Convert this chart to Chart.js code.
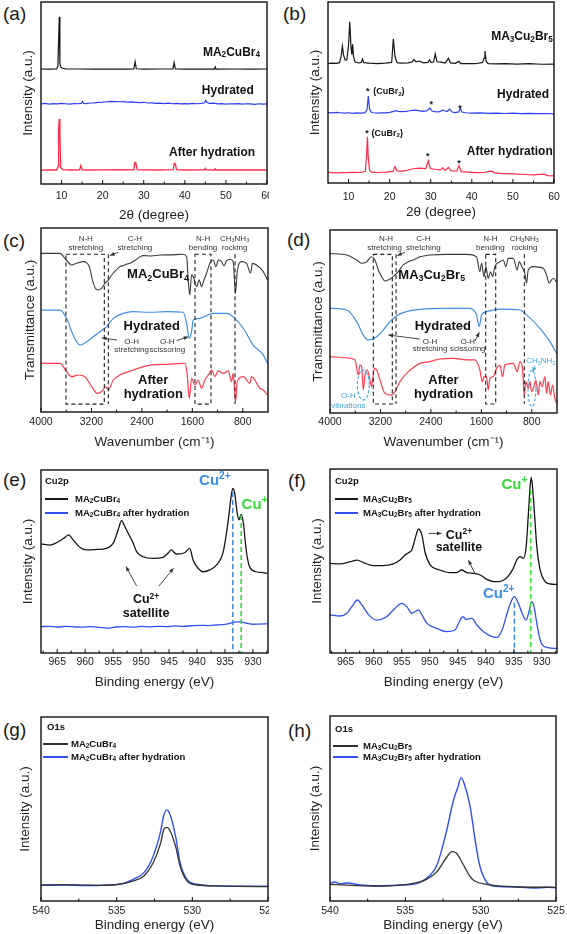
<!DOCTYPE html>
<html><head><meta charset="utf-8">
<script src="https://cdn.jsdelivr.net/npm/chart.js@4.4.0/dist/chart.umd.min.js"></script>
<style>
html,body{margin:0;padding:0;background:#fff;}
body{width:567px;height:934px;position:relative;overflow:hidden;font-family:"Liberation Sans",Arial,sans-serif;}
canvas{position:absolute;}
.lab{position:absolute;font-size:19px;line-height:20px;color:#1a1a1a;font-family:"Liberation Sans",Arial,sans-serif;}
</style></head><body>
<div class="lab" style="left:3px;top:4px">(a)</div>
<div class="lab" style="left:283px;top:4px">(b)</div>
<div class="lab" style="left:3px;top:231px">(c)</div>
<div class="lab" style="left:287px;top:230px">(d)</div>
<div class="lab" style="left:3px;top:470px">(e)</div>
<div class="lab" style="left:288px;top:471px">(f)</div>
<div class="lab" style="left:3px;top:720px">(g)</div>
<div class="lab" style="left:288px;top:721px">(h)</div>
<canvas id="ca"></canvas><canvas id="cb"></canvas>
<canvas id="cc"></canvas><canvas id="cd"></canvas>
<canvas id="ce"></canvas><canvas id="cf"></canvas>
<canvas id="cg"></canvas><canvas id="ch"></canvas>
<script>
// ---------------- tick labels ----------------
const xrdTicks = [10, 20, 30, 40, 50, 60];
const ftirTicks = [4000, 3200, 2400, 1600, 800];
const cu2pTicks = [965, 960, 955, 950, 945, 940, 935, 930];
const o1sTicks = [540, 535, 530, 525];

// ---------------- (a) XRD MA2CuBr4 ----------------
const xrdA_pristine_x = [5,7,8.8,9.1,9.3,9.45,9.6,9.8,10.2,11,14,18,22,26,27.6,27.9,28.2,30,34,37.1,37.4,37.7,40,44,47.2,47.4,47.6,52,56,60];
const xrdA_pristine_y = [63.2,63.1,63.2,64.5,80,91.9,66,64.3,63.6,63.3,63.2,63.1,63.2,63.1,63.2,67.2,63.3,63.1,63.2,63.2,66.7,63.2,63.1,63.2,63.1,64.3,63.1,63.2,63.1,63.2];
const xrdA_hydrated_x = [5,6,7,8,9,10,11,12,13,14,14.8,15.1,15.4,16,17,18,19,20,21,22,23,24,25,26,27,28,29,30,31,32,33,34,35,36,37,38,39,40,41,42,43,44,44.8,45.1,45.4,46,47,48,49,50,51,52,53,54,55,56,57,58,59,60];
const xrdA_hydrated_y = [44.0,44.3,43.9,44.2,44.0,44.3,44.1,43.9,44.2,44.1,44.3,45.3,44.3,44.2,44.5,44.6,44.9,45.0,45.2,45.4,45.3,45.2,45.3,45.0,45.1,44.9,44.7,44.9,44.5,44.6,44.3,44.4,44.2,44.4,44.1,44.3,44.0,44.2,44.0,44.3,44.1,44.3,44.6,46.0,44.8,44.3,44.4,44.0,44.2,43.9,44.1,44.0,44.2,43.9,44.1,44.0,43.8,44.1,43.9,44.0];
const xrdA_after_x = [5,7,8.8,9.15,9.3,9.45,9.6,9.8,10.3,12,14.4,14.7,15.0,17,20,24,27.6,27.85,28.1,28.4,30,33,37.2,37.45,37.7,38,40,44.8,45.0,45.2,47.2,47.4,47.6,50,54,57,60];
const xrdA_after_y = [7.6,7.8,7.7,9.5,30,35.7,28,9,7.9,7.7,7.8,10.1,7.8,7.7,7.8,7.9,7.8,11.9,11.5,7.9,7.8,7.7,7.9,11.4,10.8,7.9,7.7,7.8,8.6,7.8,7.7,8.4,7.7,7.8,7.7,7.8,7.7];

// ---------------- (b) XRD MA3Cu2Br5 ----------------
const xrdB_pristine_x = [5,6,7,7.8,8.2,8.5,8.8,9.2,9.6,10.0,10.3,10.6,10.8,11.0,11.2,11.6,12.5,13.1,13.4,13.7,15,17,19,20.5,20.9,21.3,21.8,23,24.5,25.5,25.9,26.4,27.3,28.2,29.3,29.7,30.1,30.7,31.1,31.5,32.5,33.5,34.3,34.8,36,36.9,37.3,39,41,42.6,43.0,43.2,43.5,44,46,48,51,54,57,60];
const xrdB_pristine_y = [66.0,66.2,66.1,66.5,70,75.7,70.5,67.8,68.2,76,89.1,75,71,76.6,70,66.8,66.3,66.6,68.5,66.5,66.2,66.0,66.2,66.6,79.6,70,66.5,66.2,66.4,66.9,68.3,67,67.4,66.4,66.6,68,66.6,66.8,71.3,67,66.8,66.3,68.9,66.4,66.1,67.2,66.0,66.0,65.9,66.6,69,72.9,67,66.0,65.8,66.0,65.7,65.9,65.6,65.7];
const xrdB_hydrated_x = [5,6,7,8,9,10,11,12,13,14,14.5,14.8,15.1,15.5,16,17,18,19,20,21,21.5,22,23,24,25,26,27,28,29,29.8,30.3,31,32,33,33.5,34,34.6,35.2,36,36.8,37.2,37.6,38.5,40,42,44,46,48,50,52,54,56,58,60];
const xrdB_hydrated_y = [38.9,38.7,39.0,38.8,38.6,38.8,38.5,38.7,38.6,38.9,40.5,48.1,41,39.2,38.8,38.6,38.8,38.7,39.0,39.6,40.1,39.5,39.4,39.6,39.9,40.3,40.0,39.6,39.8,41.4,39.8,39.4,39.3,40.2,39.8,39.5,40.8,39.2,38.9,39.3,41.3,39.2,38.8,38.6,38.7,38.5,38.6,38.4,38.6,38.3,38.5,38.3,38.4,38.2];
const xrdB_after_x = [5,7,9,11,13,14.1,14.4,14.6,14.8,15.1,15.6,17,19,20.8,21.3,21.8,23,24.5,26,27.5,28.8,29.4,29.9,31,32.4,32.9,33.5,34.3,34.9,36.3,36.9,37.4,39,41,43,44.5,45.0,45.5,47,50,53,55,57.5,58.5,60];
const xrdB_after_y = [5.9,5.6,5.7,5.9,5.8,6.5,16,25.6,14,7.2,6.0,5.8,6.0,6.4,9.0,6.7,6.6,7.2,8.0,8.2,7.9,12.3,8.0,7.6,7.2,8.4,7.0,8.6,6.8,6.5,9.6,6.3,6.0,5.7,5.8,6.6,6.4,5.6,5.3,5.0,4.7,4.5,4.9,4.0,3.9];

// ---------------- (c) FTIR MA2CuBr4 ----------------
const ftirC_pristine_x = [4000,3700,3600,3515,3435,3330,3235,3170,3105,3040,2985,2935,2855,2750,2690,2640,2590,2500,2450,2380,2250,2115,1950,1745,1690,1665,1640,1612,1575,1533,1491,1454,1417,1374,1322,1269,1226,1189,1137,1100,1057,1004,952,915,888,819,740,677,645,582,476,408];
const ftirC_pristine_y = [86.2,86.2,82.6,79.9,80.8,81.7,79.0,69.9,66.3,67.2,69.9,71.7,75.4,79.0,79.6,80.4,80.8,82.6,83.9,85.0,84.8,85.3,85.4,85.7,84.4,71.7,63.6,74.5,72.6,68.1,71.7,68.1,71.7,75.4,80.8,82.6,79.0,82.6,81.7,79.5,82.1,83.0,81.7,64.5,76.3,81.7,80.8,75.4,80.8,79.9,76.3,71.7];
const ftirC_hydrated_x = [4000,3700,3593,3514,3435,3380,3276,3171,3065,2960,2854,2695,2537,2272,2008,1744,1691,1649,1612,1586,1480,1374,1269,1057,925,793,635,476,408];
const ftirC_hydrated_y = [55.4,55.4,50.9,43.7,38.2,36.4,38.2,40.9,43.7,46.4,50.9,53.6,54.5,54.2,54.5,54.2,48.2,40.0,43.7,50.0,50.9,52.4,53.6,53.6,50.9,45.5,36.4,31.0,26.4];
const ftirC_after_x = [4000,3700,3593,3514,3408,3303,3197,3107,3038,2970,2933,2854,2748,2537,2272,2008,1718,1681,1649,1612,1559,1506,1454,1401,1348,1295,1242,1189,1110,1030,978,952,915,888,793,687,661,529,476,408];
const ftirC_after_y = [26.4,26.4,21.9,19.2,20.1,19.2,13.8,10.1,11.1,13.8,12.0,17.4,20.1,22.8,25.5,25.9,26.4,20.1,7.4,18.3,14.7,17.4,12.9,17.4,20.1,22.8,19.2,22.3,21.0,22.3,16.5,21.0,5.6,16.5,19.2,15.6,19.2,12.9,12.0,9.2];

// ---------------- (d) FTIR MA3Cu2Br5 ----------------
const ftirD_pristine_x = [4000,3736,3577,3498,3419,3340,3287,3234,3181,3128,3049,2970,2917,2838,2758,2679,2574,2415,2151,1834,1676,1623,1596,1559,1528,1491,1454,1422,1385,1306,1253,1211,1174,1094,1031,999,946,909,883,856,777,619,566,524,487,450,408];
const ftirD_pristine_y = [87.2,86.3,83.6,81.8,82.6,85.4,83.6,78.1,74.5,72.1,73.2,75.4,77.2,80.9,82.6,83.6,85.4,86.3,86.7,86.7,85.4,77.2,81.8,74.5,80.0,73.6,77.2,74.5,80.0,82.6,83.6,80.0,84.5,84.5,78.1,82.6,79.1,76.3,70.9,78.1,80.0,79.1,75.4,70.9,72.7,73.6,71.4];
const ftirD_hydrated_x = [4000,3736,3577,3472,3392,3260,3155,3049,2943,2785,2574,2151,1781,1676,1634,1596,1517,1306,989,883,671,513,408];
const ftirD_hydrated_y = [57.2,56.3,49.9,42.6,39.9,41.7,45.4,49.9,53.2,55.4,56.6,57.2,57.2,53.6,47.2,53.6,55.4,56.8,56.3,53.6,46.3,39.0,32.6];
const ftirD_after_x = [4000,3736,3604,3551,3525,3498,3472,3445,3408,3366,3340,3297,3260,3207,3128,3023,2970,2891,2758,2574,2415,2257,2045,1834,1702,1623,1586,1559,1517,1491,1464,1411,1359,1306,1264,1226,1094,1031,989,946,920,894,856,830,804,767,735,698,672,635,592,566,540,503,471,434,408];
const ftirD_after_y = [30.8,30.2,29.0,20.8,26.2,25.3,12.6,20.8,23.5,18.0,14.4,24.4,23.5,18.0,10.7,9.8,11.7,17.1,22.6,27.1,28.1,29.5,29.9,29.0,29.0,23.5,17.1,19.9,19.9,12.6,18.9,19.9,24.4,26.2,19.9,26.2,27.1,22.6,28.1,24.4,9.8,17.1,13.5,17.1,11.7,14.4,18.0,9.8,17.1,14.4,19.9,10.7,17.1,9.8,15.3,8.0,5.3];

// ---------------- (e) XPS Cu2p MA2CuBr4 ----------------
const cu2pE_pristine_x = [967.9,966.3,964.8,963.6,963.0,962.1,960.9,959.7,957.9,956.2,955.0,954.1,953.5,952.9,952.3,951.4,950.8,949.6,947.8,946.1,945.2,944.6,943.7,942.2,941.3,940.7,939.8,938.9,937.7,936.5,935.3,934.4,933.9,933.6,933.3,932.8,932.5,932.1,931.7,931.2,930.6,929.4,928.2,927.4];
const cu2pE_pristine_y = [59.6,59.0,60.8,63.2,64.5,61.7,57.6,56.3,56.6,57.2,59.9,67.2,72.3,69.0,65.4,59.9,55.4,52.6,51.7,52.3,54.5,56.3,54.1,54.8,57.2,50.8,46.3,44.4,45.4,48.1,55.4,72.7,85.4,90.0,88.2,76.3,72.7,75.8,70.9,56.3,47.2,44.4,43.9,43.5];
const cu2pE_after_x = [967.9,966.5,965,963.5,962,960.5,959,957.5,956,954.5,953,951.5,950,948.5,947,945.5,944,942.5,941,939.5,938,936.5,935,934,933,932,931,930,929,927.4];
const cu2pE_after_y = [14.4,14.6,14.2,14.5,14.3,14.1,14.4,14.0,13.6,14.2,14.4,14.1,14.5,14.3,14.6,14.4,14.8,14.6,14.9,15.1,15.0,15.3,15.6,16.3,17.0,16.9,16.2,15.7,15.8,15.9];

// ---------------- (f) XPS Cu2p MA3Cu2Br5 ----------------
const cu2pF_pristine_x = [967.8,966.0,964.2,963.0,961.8,960.1,958.3,956.5,955.3,954.4,953.8,953.2,952.6,952.0,951.4,950.8,949.9,948.2,946.4,945.2,944.3,943.4,942.2,941.0,939.8,938.6,937.7,936.8,936.0,935.1,934.5,933.9,933.3,932.8,932.4,932.1,931.9,931.7,931.4,930.9,930.3,929.4,928.5,927.3];
const cu2pF_pristine_y = [48.7,48.4,49.6,50.5,49.1,47.5,47.5,48.4,50.5,53.3,54.5,56.0,62.3,67.4,64.1,54.2,47.8,45.1,43.7,43.7,45.1,43.7,43.3,42.4,40.0,38.8,38.8,39.7,41.8,46.0,50.5,52.4,51.4,57.8,75.9,90.4,95.5,91.3,79.5,57.8,45.1,38.8,37.5,37.3];
const cu2pF_after_x = [967.8,966.0,964.8,963.9,962.9,962.1,960.9,959.5,957.7,956.2,955.0,954.1,953.2,952.0,951.4,950.5,948.8,947.0,945.5,944.6,944.1,943.5,942.5,941.6,940.4,938.9,938.0,937.1,936.2,935.5,934.9,934.2,933.4,932.8,932.3,931.8,931.4,930.8,930.1,928.9,927.3];
const cu2pF_after_y = [20.7,20.1,21.6,25.2,28.8,26.1,20.7,17.9,19.7,24.3,27.0,25.2,21.6,23.4,20.7,16.1,13.4,11.6,12.5,17.9,19.7,18.3,18.8,15.2,11.6,8.9,8.5,12.5,21.6,27.9,30.6,27.0,20.7,17.9,22.5,27.9,25.2,14.3,5.3,2.9,2.5];

// ---------------- (g) XPS O1s MA2CuBr4 ----------------
const o1sG_pristine_x = [540,538.5,537,536.1,534.8,533.9,533.2,532.6,532.1,531.9,531.7,531.5,531.1,530.8,530.4,529.7,528.4,527,525];
const o1sG_pristine_y = [8.7,8.9,8.6,8.5,9.1,10.9,13.6,20.5,31.3,38.6,40.0,38.6,29.5,18.7,11.4,8.7,8.2,8.0,7.8];
const o1sG_after_x = [540,538.5,537,534.8,533.9,533.2,532.6,532.1,531.9,531.7,531.5,531.1,530.8,530.4,529.7,528.4,527,525];
const o1sG_after_y = [8.5,8.7,8.4,9.2,11.8,15.4,24.1,37.7,46.2,49.5,47.6,35.0,20.5,12.3,9.1,8.2,8.1,8.0];

// ---------------- (h) XPS O1s MA3Cu2Br5 ----------------
const o1sH_pristine_x = [540,536.7,534.5,533.6,532.9,532.3,531.9,531.6,531.2,530.7,530.4,529.6,527.9,525];
const o1sH_pristine_y = [9.0,8.1,9.5,11.7,15.9,23.1,26.7,25.8,20.4,13.2,10.8,9.0,7.7,7.4];
const o1sH_after_x = [540,539.7,539.3,538.9,537.8,536.7,535.6,534.5,533.6,532.9,532.3,531.8,531.5,531.3,531.1,530.7,530.4,530.1,529.7,529.2,527.9,526.5,525.6,525];
const o1sH_after_y = [9.5,10.3,9.2,9.7,8.5,8.1,8.6,9.0,12.3,19.5,36.6,54.6,61.8,66.7,63.6,51.0,34.8,20.4,11.4,8.1,7.7,7.0,7.4,7.2];

// ---------------- style / layout ----------------
const FAM = '"Liberation Sans", Arial, sans-serif';
const C = {black:'#161616', xblue:'#2b3ef0', xred:'#ff2a48', fblack:'#3a3a3a', fblue:'#3f8fe8', fred:'#ff3b4e',
           pblue:'#3050f0', cyan:'#3ea5e6', green:'#33dd33', dblue:'#3a8ee6'};

const PANELS = {
  a:{cl:0,  ct:0,  cw:269,ch:228,L:41, T:2,  R:267,B:184,tickY:196,titleY:215,yTitleX:28},
  b:{cl:283,ct:0,  cw:284,ch:228,L:328,T:2,  R:554,B:183,tickY:197,titleY:212,yTitleX:315},
  c:{cl:0,  ct:226,cw:269,ch:228,L:41, T:228,R:268,B:412,tickY:422,titleY:442,yTitleX:30},
  d:{cl:283,ct:228,cw:284,ch:226,L:330,T:230,R:557,B:413,tickY:422,titleY:442,yTitleX:318},
  e:{cl:0,  ct:466,cw:269,ch:228,L:41, T:470,R:268,B:653,tickY:662,titleY:682,yTitleX:28},
  f:{cl:283,ct:466,cw:284,ch:228,L:330,T:469,R:557,B:653,tickY:662,titleY:682,yTitleX:317},
  g:{cl:0,  ct:713,cw:269,ch:221,L:41, T:717,R:268,B:901,tickY:911,titleY:925,yTitleX:25},
  h:{cl:283,ct:713,cw:284,ch:221,L:330,T:716,R:556,B:901,tickY:911,titleY:925,yTitleX:315}
};

// ---------------- annotations (data coordinates) ----------------
const B12 = {size:12, bold:true};
const notesA = [
  {t:'text', x:58.3, y:72.4, s:'MA_2CuBr_4', ...B12, align:'right'},
  {t:'text', x:56.8, y:51.3, s:'Hydrated', ...B12, align:'right'},
  {t:'text', x:57.1, y:17.4, s:'After hydration', ...B12, align:'right'}
];
const notesB = [
  {t:'text', x:59.7, y:80.8, s:'MA_3Cu_2Br_5', ...B12, align:'right'},
  {t:'text', x:58.8, y:48.6, s:'Hydrated', ...B12, align:'right'},
  {t:'text', x:59.7, y:17.3, s:'After hydration', ...B12, align:'right'},
  {t:'text', x:14.7, y:50.3, s:'*', size:9, bold:true},
  {t:'text', x:16.0, y:50.4, s:'(CuBr_2)', size:9, bold:true, align:'left'},
  {t:'text', x:30.1, y:43.1, s:'*', size:9, bold:true},
  {t:'text', x:37.1, y:41.4, s:'*', size:9, bold:true},
  {t:'text', x:14.5, y:27.1, s:'*', size:9, bold:true},
  {t:'text', x:15.6, y:27.4, s:'(CuBr_2)', size:9, bold:true, align:'left'},
  {t:'text', x:29.3, y:14.4, s:'*', size:9, bold:true},
  {t:'text', x:36.9, y:10.5, s:'*', size:9, bold:true}
];
const S8 = {size:8, color:'#333'};
const B14 = {size:13, bold:true};
const notesC = [
  {t:'box', x1:3604, x2:2996, y1:85.7, y2:4.3},
  {t:'vline', x:2932, y1:85.7, y2:4.3, color:'#222', dash:[4,3], w:1.1},
  {t:'box', x1:1558, x2:1304, y1:85.7, y2:4.3},
  {t:'vline', x:923, y1:85.7, y2:4.3, color:'#222', dash:[4,3], w:1.1},
  {t:'text', x:3290, y:94.4, s:'N-H', ...S8}, {t:'text', x:3290, y:89.3, s:'stretching', ...S8},
  {t:'text', x:2510, y:94.4, s:'C-H', ...S8}, {t:'text', x:2510, y:89.3, s:'stretching', ...S8},
  {t:'text', x:1430, y:94.4, s:'N-H', ...S8}, {t:'text', x:1430, y:89.3, s:'bending', ...S8},
  {t:'text', x:930, y:94.4, s:'CH_3NH_3', ...S8}, {t:'text', x:930, y:89.3, s:'rocking', ...S8},
  {t:'arrow', x1:2774, y1:86.8, x2:2906, y2:85.0},
  {t:'text', x:2144, y:74.5, s:'MA_2CuBr_4', ...B14},
  {t:'text', x:2244, y:46.4, s:'Hydrated', ...B14},
  {t:'text', x:2562, y:38.2, s:'O-H', ...S8}, {t:'text', x:2562, y:33.7, s:'stretching', ...S8},
  {t:'arrow', x1:2795, y1:39.1, x2:3033, y2:40.2},
  {t:'text', x:1997, y:38.2, s:'O-H', ...S8}, {t:'text', x:1997, y:33.7, s:'scissoring', ...S8},
  {t:'arrow', x1:1848, y1:38.8, x2:1664, y2:40.9},
  {t:'text', x:2220, y:17.4, s:'After', ...B14},
  {t:'text', x:2220, y:9.6, s:'hydration', ...B14}
];
const C8 = {size:8, color:C.cyan};
const notesD = [
  {t:'box', x1:3313, x2:3012, y1:86.7, y2:4.9},
  {t:'vline', x:2953, y1:86.7, y2:4.9, color:'#222', dash:[4,3], w:1.1},
  {t:'box', x1:1531, x2:1372, y1:86.7, y2:4.9},
  {t:'vline', x:918, y1:86.7, y2:4.9, color:'#222', dash:[4,3], w:1.1},
  {t:'text', x:3112, y:95.4, s:'N-H', ...S8}, {t:'text', x:3135, y:90.3, s:'stretching', ...S8},
  {t:'text', x:2520, y:95.4, s:'C-H', ...S8}, {t:'text', x:2520, y:90.3, s:'stretching', ...S8},
  {t:'text', x:1457, y:95.4, s:'N-H', ...S8}, {t:'text', x:1457, y:90.3, s:'bending', ...S8},
  {t:'text', x:920, y:95.4, s:'CH_3NH_3', ...S8}, {t:'text', x:915, y:90.3, s:'rocking', ...S8},
  {t:'arrow', x1:2810, y1:87.8, x2:2933, y2:86.0},
  {t:'text', x:2387, y:75.4, s:'MA_3Cu_2Br_5', ...B14},
  {t:'text', x:2210, y:47.2, s:'Hydrated', ...B14},
  {t:'text', x:2414, y:39.0, s:'O-H', ...S8}, {t:'text', x:2414, y:35.0, s:'stretching', ...S8},
  {t:'arrow', x1:2573, y1:40.4, x2:3075, y2:42.6},
  {t:'text', x:1815, y:39.0, s:'O-H', ...S8}, {t:'text', x:1815, y:35.0, s:'scissoring', ...S8},
  {t:'arrow', x1:1700, y1:39.3, x2:1632, y2:44.1},
  {t:'text', x:2200, y:18.0, s:'After', ...B14},
  {t:'text', x:2200, y:10.2, s:'hydration', ...B14},
  {t:'ellipse', x:3472, y:15.3, rx:95, ry:8.2, color:C.cyan},
  {t:'ellipse', x:798, y:13.5, rx:63, ry:10, color:C.cyan},
  {t:'text', x:3709, y:9.3, s:'O-H', ...C8}, {t:'text', x:3709, y:4.0, s:'vibrations', ...C8},
  {t:'text', x:658, y:28.4, s:'CH_3NH_2', ...C8},
  {t:'arrow', x1:749, y1:25.8, x2:785, y2:22.4, color:C.cyan}
];
const notesE = [
  {t:'vline', x:933.6, y1:88, y2:0, color:C.dblue, dash:[5,3], w:1.6},
  {t:'vline', x:932.1, y1:75.4, y2:0, color:C.green, dash:[5,3], w:1.6},
  {t:'text', x:936.8, y:94, s:'Cu^{2+}', size:15, bold:true, color:C.dblue},
  {t:'text', x:929.7, y:80.9, s:'Cu^{+}', size:15, bold:true, color:C.green},
  {t:'text', x:949.1, y:29, s:'Cu^{2+}', size:12.5, bold:true},
  {t:'text', x:949.1, y:21.7, s:'satellite', size:12.5, bold:true},
  {t:'arrow', x1:950.8, y1:36.6, x2:952.7, y2:47.2},
  {t:'arrow', x1:946.8, y1:36.6, x2:944.2, y2:46.3}
];
const notesF = [
  {t:'vline', x:932.0, y1:88.6, y2:0, color:C.green, dash:[5,3], w:1.6},
  {t:'vline', x:934.9, y1:27.3, y2:0, color:C.dblue, dash:[5,3], w:1.6},
  {t:'text', x:934.9, y:91.3, s:'Cu^{+}', size:15, bold:true, color:C.green},
  {t:'text', x:937.7, y:32.4, s:'Cu^{2+}', size:15, bold:true, color:C.dblue},
  {t:'text', x:944.8, y:64.1, s:'Cu^{2+}', size:12.5, bold:true},
  {t:'text', x:944.8, y:57.2, s:'satellite', size:12.5, bold:true},
  {t:'arrow', x1:950.2, y1:65, x2:947.9, y2:65},
  {t:'arrow', x1:941.9, y1:42.9, x2:943.1, y2:50.5}
];
const legE = {title:'Cu2p', dx:4, ty:11, rows:[29,43], lx1:4, lx2:27, tx:34};
const legF = {title:'Cu2p', dx:5, ty:12, rows:[30,44], lx1:5, lx2:28, tx:33};
const legG = {title:'O1s', dx:6, ty:10, rows:[27,40], lx1:2, lx2:27, tx:30};
const legH = {title:'O1s', dx:5, ty:13, rows:[30,41], lx1:3, lx2:28, tx:33};

// ---------------- drawing helpers ----------------
function fontStr(size, bold){ return (bold ? 'bold ' : '') + size + 'px ' + FAM; }
function parseRich(s){
  const segs = []; let cur = ''; let i = 0;
  while (i < s.length){
    const ch = s[i];
    if (ch === '_' || ch === '^'){
      if (cur){ segs.push({t:cur, m:0}); cur=''; }
      let t;
      if (s[i+1] === '{'){ const j = s.indexOf('}', i+2); t = s.slice(i+2, j); i = j+1; }
      else { t = s[i+1]; i += 2; }
      segs.push({t, m: ch === '_' ? 1 : 2});
    } else { cur += ch; i++; }
  }
  if (cur) segs.push({t:cur, m:0});
  return segs;
}
function drawRich(ctx, s, x, y, size, bold, color, align){
  const segs = parseRich(s); let w = 0;
  segs.forEach(g => { ctx.font = fontStr(g.m ? size*0.68 : size, bold); g.w = ctx.measureText(g.t).width; w += g.w; });
  let cx = align === 'right' ? x - w : align === 'left' ? x : x - w/2;
  ctx.fillStyle = color; ctx.textBaseline = 'middle'; ctx.textAlign = 'left';
  segs.forEach(g => {
    ctx.font = fontStr(g.m ? size*0.68 : size, bold);
    const dy = g.m === 1 ? size*0.25 : g.m === 2 ? -size*0.3 : 0;
    ctx.fillText(g.t, cx, y + dy); cx += g.w;
  });
}
function drawArrow(ctx, x1, y1, x2, y2, color){
  ctx.strokeStyle = color; ctx.fillStyle = color; ctx.lineWidth = 0.9; ctx.setLineDash([]);
  ctx.beginPath(); ctx.moveTo(x1, y1); ctx.lineTo(x2, y2); ctx.stroke();
  const a = Math.atan2(y2-y1, x2-x1), h = 5;
  ctx.beginPath(); ctx.moveTo(x2, y2);
  ctx.lineTo(x2 - h*Math.cos(a-0.4), y2 - h*Math.sin(a-0.4));
  ctx.lineTo(x2 - h*Math.cos(a+0.4), y2 - h*Math.sin(a+0.4));
  ctx.closePath(); ctx.fill();
}

const decor = {
  id:'decor',
  afterDatasetsDraw(chart, args, opts){
    const {ctx, chartArea:a, scales:{x, y}} = chart;
    const px = v => x.getPixelForValue(v), py = v => y.getPixelForValue(v);
    ctx.save();
    (opts.items || []).forEach(it => {
      if (it.t === 'text'){
        drawRich(ctx, it.s, px(it.x), py(it.y), it.size || 12, !!it.bold, it.color || '#111', it.align || 'center');
      } else if (it.t === 'box'){
        ctx.strokeStyle = '#222'; ctx.lineWidth = 1.1; ctx.setLineDash([4,3]);
        const X1 = px(it.x1), X2 = px(it.x2), Y1 = py(it.y1), Y2 = py(it.y2);
        ctx.strokeRect(Math.min(X1,X2), Math.min(Y1,Y2), Math.abs(X2-X1), Math.abs(Y2-Y1));
      } else if (it.t === 'vline'){
        ctx.strokeStyle = it.color; ctx.lineWidth = it.w; ctx.setLineDash(it.dash);
        ctx.beginPath(); ctx.moveTo(px(it.x), py(it.y1)); ctx.lineTo(px(it.x), py(it.y2)); ctx.stroke();
      } else if (it.t === 'arrow'){
        drawArrow(ctx, px(it.x1), py(it.y1), px(it.x2), py(it.y2), it.color || '#333');
      } else if (it.t === 'ellipse'){
        const cx = px(it.x), cy = py(it.y);
        const rx = Math.abs(px(it.x + it.rx) - cx), ry = Math.abs(py(it.y + it.ry) - cy);
        ctx.strokeStyle = it.color; ctx.lineWidth = 1.1; ctx.setLineDash([3,2]);
        ctx.beginPath(); ctx.ellipse(cx, cy, rx, ry, 0, 0, Math.PI*2); ctx.stroke();
      }
    });
    const lg = opts.legend;
    if (lg){
      drawRich(ctx, lg.title, a.left + lg.dx, a.top + lg.ty, 9.5, true, '#111', 'left');
      chart.data.datasets.forEach((ds, i) => {
        const yy = a.top + lg.rows[i];
        ctx.strokeStyle = ds.borderColor; ctx.lineWidth = 2; ctx.setLineDash([]);
        ctx.beginPath(); ctx.moveTo(a.left + lg.lx1, yy); ctx.lineTo(a.left + lg.lx2, yy); ctx.stroke();
        drawRich(ctx, ds.label, a.left + lg.tx, yy, 9.5, true, '#111', 'left');
      });
    }
    // frame
    ctx.setLineDash([]); ctx.strokeStyle = '#111'; ctx.lineWidth = 1.4;
    ctx.strokeRect(a.left, a.top, a.right - a.left, a.bottom - a.top);
    // inward tick marks on the bottom axis
    const tv = x.ticks.map(t => t.value);
    const lo = Math.min(x.min, x.max), hi = Math.max(x.min, x.max);
    ctx.lineWidth = 1;
    tv.forEach(v => { const X = px(v); ctx.beginPath(); ctx.moveTo(X, a.bottom); ctx.lineTo(X, a.bottom - 4); ctx.stroke(); });
    if (tv.length > 1){
      const step = tv[1] - tv[0];
      for (let k = -3; k < tv.length + 3; k++){
        const v = tv[0] + (k + 0.5) * step;
        if (v > lo && v < hi){ const X = px(v); ctx.beginPath(); ctx.moveTo(X, a.bottom); ctx.lineTo(X, a.bottom - 2.5); ctx.stroke(); }
      }
    }
    ctx.restore();
  }
};

function series(xs, ys, color, label, width, smooth){
  return {label, data: xs.map((v, i) => ({x: v, y: ys[i]})), borderColor: color, borderWidth: width,
          pointRadius: 0, fill: false, tension: 0, cubicInterpolationMode: smooth ? 'monotone' : 'default'};
}

function build(id, cfg){
  const p = PANELS[id];
  const cv = document.getElementById('c' + id);
  cv.width = p.cw; cv.height = p.ch;
  cv.style.left = p.cl + 'px'; cv.style.top = p.ct + 'px';
  cv.style.width = p.cw + 'px'; cv.style.height = p.ch + 'px';
  const lhT = 13.5 * 1.2, lhK = 10.5 * 1.2;
  new Chart(cv, {
    type: 'line',
    data: {datasets: cfg.datasets},
    options: {
      responsive: false, animation: false, events: [],
      layout: {autoPadding: false, padding: {left: 0, top: p.T - p.ct, right: p.cl + p.cw - p.R, bottom: 0}},
      plugins: {legend: {display: false}, tooltip: {enabled: false}, decor: {items: cfg.items, legend: cfg.legend}},
      scales: {
        x: {type: 'linear', min: cfg.xmin, max: cfg.xmax, reverse: !!cfg.reverse,
            grid: {display: false, drawTicks: false}, border: {display: false},
            ticks: {font: {family: FAM, size: 10.5}, color: '#222', padding: p.tickY - p.B - lhK/2, maxRotation: 0, autoSkip: false,
                    callback: v => String(v)},
            afterBuildTicks: s => { s.ticks = cfg.ticks.map(v => ({value: v})); },
            afterFit: s => { s.height = p.ct + p.ch - p.B; s.paddingLeft = 0; s.paddingRight = 0; },
            title: {display: true, text: cfg.xTitle, font: {family: FAM, size: 13.5}, color: '#222',
                    padding: {top: 0, bottom: p.ct + p.ch - p.titleY - lhT/2}}},
        y: {type: 'linear', min: 0, max: 100,
            grid: {display: false, drawTicks: false}, border: {display: false}, ticks: {display: false},
            afterFit: s => { s.width = p.L - p.cl; s.paddingTop = 0; s.paddingBottom = 0; },
            title: {display: true, text: cfg.yTitle, font: {family: FAM, size: 13.5}, color: '#222',
                    padding: {top: p.yTitleX - p.cl - lhT/2, bottom: 0}}}
      }
    },
    plugins: [decor]
  });
}

const XRD_T = '2θ (degree)', FTIR_T = 'Wavenumber (cm⁻¹)', BE_T = 'Binding energy (eV)';
const INT = 'Intensity (a.u.)', TR = 'Transmittance (a.u.)';

build('a', {xmin:5, xmax:60, ticks:xrdTicks, xTitle:XRD_T, yTitle:INT, items:notesA, datasets:[
  series(xrdA_pristine_x, xrdA_pristine_y, C.black, 'MA2CuBr4', 1.2),
  series(xrdA_hydrated_x, xrdA_hydrated_y, C.xblue, 'Hydrated', 1.2),
  series(xrdA_after_x, xrdA_after_y, C.xred, 'After hydration', 1.3)]});
build('b', {xmin:5, xmax:60, ticks:xrdTicks, xTitle:XRD_T, yTitle:INT, items:notesB, datasets:[
  series(xrdB_pristine_x, xrdB_pristine_y, C.black, 'MA3Cu2Br5', 1.2),
  series(xrdB_hydrated_x, xrdB_hydrated_y, C.xblue, 'Hydrated', 1.2),
  series(xrdB_after_x, xrdB_after_y, C.xred, 'After hydration', 1.2)]});
build('c', {xmin:400, xmax:4000, reverse:true, ticks:ftirTicks, xTitle:FTIR_T, yTitle:TR, items:notesC, datasets:[
  series(ftirC_pristine_x, ftirC_pristine_y, C.fblack, 'MA2CuBr4', 1.1, true),
  series(ftirC_hydrated_x, ftirC_hydrated_y, C.fblue, 'Hydrated', 1.2, true),
  series(ftirC_after_x, ftirC_after_y, C.fred, 'After hydration', 1.2, true)]});
build('d', {xmin:400, xmax:4000, reverse:true, ticks:ftirTicks, xTitle:FTIR_T, yTitle:TR, items:notesD, datasets:[
  series(ftirD_pristine_x, ftirD_pristine_y, C.fblack, 'MA3Cu2Br5', 1.1, true),
  series(ftirD_hydrated_x, ftirD_hydrated_y, C.fblue, 'Hydrated', 1.2, true),
  series(ftirD_after_x, ftirD_after_y, C.fred, 'After hydration', 1.2, true)]});
build('e', {xmin:927.3, xmax:967.9, reverse:true, ticks:cu2pTicks, xTitle:BE_T, yTitle:INT, items:notesE, legend:legE, datasets:[
  series(cu2pE_pristine_x, cu2pE_pristine_y, C.black, 'MA_2CuBr_4', 1.3, true),
  series(cu2pE_after_x, cu2pE_after_y, C.pblue, 'MA_2CuBr_4 after hydration', 1.3, true)]});
build('f', {xmin:927.3, xmax:967.8, reverse:true, ticks:cu2pTicks, xTitle:BE_T, yTitle:INT, items:notesF, legend:legF, datasets:[
  series(cu2pF_pristine_x, cu2pF_pristine_y, C.black, 'MA_3Cu_2Br_5', 1.3, true),
  series(cu2pF_after_x, cu2pF_after_y, C.pblue, 'MA_3Cu_2Br_5 after hydration', 1.3, true)]});
build('g', {xmin:525, xmax:540, reverse:true, ticks:o1sTicks, xTitle:BE_T, yTitle:INT, items:[], legend:legG, datasets:[
  series(o1sG_pristine_x, o1sG_pristine_y, '#333', 'MA_2CuBr_4', 1.3, true),
  series(o1sG_after_x, o1sG_after_y, C.pblue, 'MA_2CuBr_4 after hydration', 1.4, true)]});
build('h', {xmin:525, xmax:540, reverse:true, ticks:o1sTicks, xTitle:BE_T, yTitle:INT, items:[], legend:legH, datasets:[
  series(o1sH_pristine_x, o1sH_pristine_y, '#333', 'MA_3Cu_2Br_5', 1.3, true),
  series(o1sH_after_x, o1sH_after_y, C.pblue, 'MA_3Cu_2Br_5 after hydration', 1.4, true)]});
</script>
</body></html>
